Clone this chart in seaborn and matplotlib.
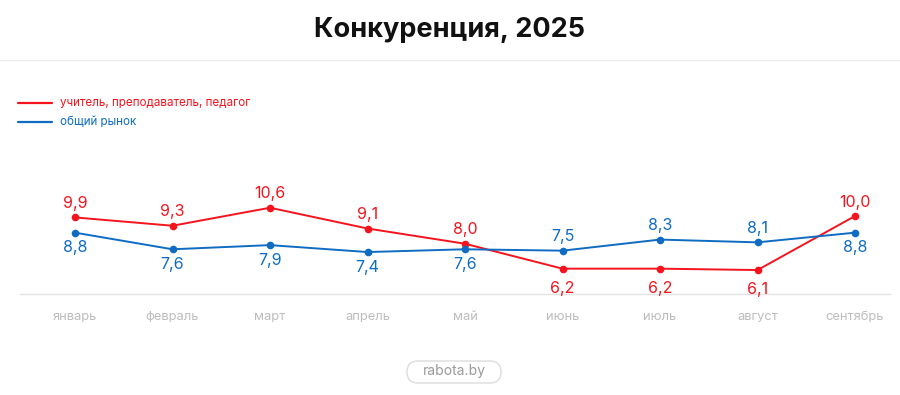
import matplotlib
matplotlib.use("Agg")
import matplotlib.pyplot as plt
from matplotlib.patches import FancyBboxPatch
from matplotlib.lines import Line2D
from matplotlib.transforms import IdentityTransform
import seaborn as sns
import pandas as pd

# ------------------------------------------------------------
# DATA
# ------------------------------------------------------------

months = ['январь', 'февраль', 'март', 'апрель', 'май',
          'июнь', 'июль', 'август', 'сентябрь']

teacher = [9.9, 9.3, 10.6, 9.1, 8.0, 6.2, 6.2, 6.1, 10.0]
market = [8.8, 7.6, 7.9, 7.4, 7.6, 7.5, 8.3, 8.1, 8.8]

teacher_name = 'учитель, преподаватель, педагог'
market_name = 'общий рынок'

RED = '#f5141e'
BLUE = '#0f6cc2'

sns.set_theme(style='white')
plt.rcParams['font.family'] = ['Inter', 'DejaVu Sans']

fig = plt.figure(figsize=(9, 3.95), dpi=100)
ax = fig.add_axes([20 / 900, 101 / 395, 870 / 900, 144 / 395])

df = pd.DataFrame({'month': months, 'teacher': teacher, 'market': market})

sns.lineplot(data=df, x='month', y='teacher', ax=ax, color=RED,
             linewidth=1.4, marker='o', markersize=5.5, markeredgewidth=0)
sns.lineplot(data=df, x='month', y='market', ax=ax, color=BLUE,
             linewidth=1.4, marker='o', markersize=5.5, markeredgewidth=0)

ax.set_xlim(-55 / 97.5, 8 + 35 / 97.5)
ax.set_ylim(4.37, 14.77)

# value labels: upper series label above, lower below
for i in range(len(months)):
    t, m = teacher[i], market[i]
    t_up = t >= m
    ax.annotate(f'{t:.1f}'.replace('.', ','), (i, t),
                xytext=(0, 10 if t_up else -14), textcoords='offset points',
                ha='center', va='center', color=RED, fontsize=11.5)
    ax.annotate(f'{m:.1f}'.replace('.', ','), (i, m),
                xytext=(0, -11 if t_up else 10), textcoords='offset points',
                ha='center', va='center', color=BLUE, fontsize=11.5)

for s in ['top', 'right', 'left']:
    ax.spines[s].set_visible(False)
ax.spines['bottom'].set_color('#e2e2e2')
ax.spines['bottom'].set_linewidth(1)
ax.set_yticks([])
ax.set_xlabel('')
ax.set_ylabel('')
ax.tick_params(axis='x', length=0, pad=12, labelsize=9.3, labelcolor='#bdbdbd')

# title and separator
fig.text(0.5, 1 - 30 / 395, 'Конкуренция, 2025', ha='center', va='center',
         fontsize=19.5, fontweight='bold', color='#111111')
fig.add_artist(Line2D([0, 1], [1 - 60 / 395] * 2, color='#ececec', linewidth=1))

# legend
for y, col, name in [(103, RED, teacher_name), (122, BLUE, market_name)]:
    yy = 1 - y / 395
    fig.add_artist(Line2D([18 / 900, 52 / 900], [yy, yy], color=col, linewidth=1.6))
    fig.text(60 / 900, yy, name, ha='left', va='center', color=col, fontsize=8.4)

# footer badge (pixel coordinates)
badge = FancyBboxPatch((407, 395 - 383), 94, 22,
                       boxstyle='round,pad=0,rounding_size=11',
                       transform=IdentityTransform(), facecolor='white',
                       edgecolor='#dcdcdc', linewidth=1)
fig.add_artist(badge)
fig.text(454 / 900, 1 - 371 / 395, 'rabota.by', ha='center', va='center',
         color='#9a9a9a', fontsize=10)

plt.savefig('out.png', dpi=100)
